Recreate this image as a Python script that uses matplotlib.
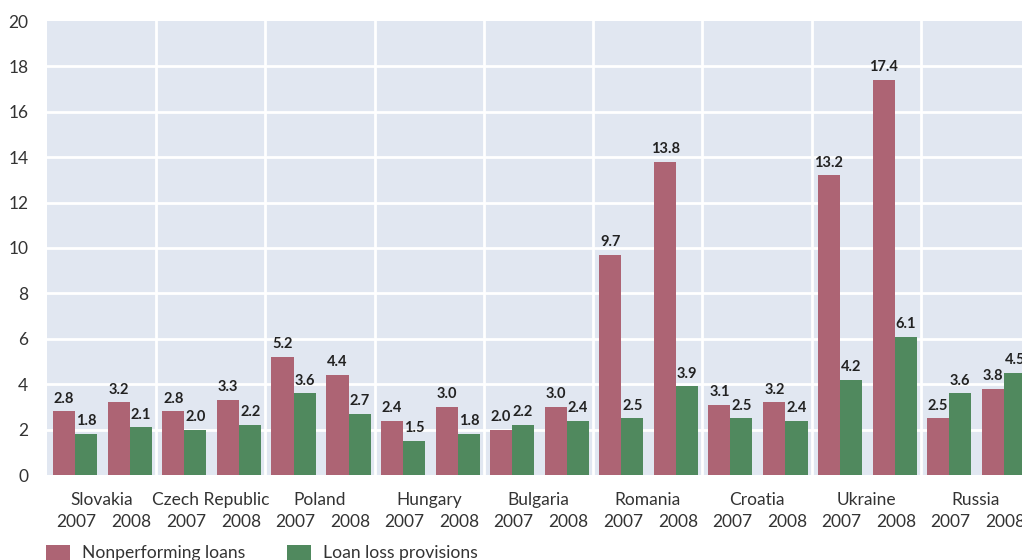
import matplotlib
matplotlib.use("Agg")
import matplotlib.pyplot as plt
from matplotlib.patches import Patch
from matplotlib.transforms import blended_transform_factory

countries = ["Slovakia", "Czech Republic", "Poland", "Hungary", "Bulgaria",
             "Romania", "Croatia", "Ukraine", "Russia"]
years = ["2007", "2008"]
# [country][year]
npl = [[2.8, 3.2], [2.8, 3.3], [5.2, 4.4], [2.4, 3.0], [2.0, 3.0],
       [9.7, 13.8], [3.1, 3.2], [13.2, 17.4], [2.5, 3.8]]
llp = [[1.8, 2.1], [2.0, 2.2], [3.6, 2.7], [1.5, 1.8], [2.2, 2.4],
       [2.5, 3.9], [2.5, 2.4], [4.2, 6.1], [3.6, 4.5]]
series_names = ["Nonperforming loans", "Loan loss provisions"]
yticks = [0, 2, 4, 6, 8, 10, 12, 14, 16, 18, 20]

PINK = "#ad6474"
GREEN = "#50895e"
BG = "#e1e7f1"
TXT = "#333333"
FONT = ["Lato", "DejaVu Sans"]
plt.rcParams["font.family"] = FONT

fig = plt.figure(figsize=(10.22, 5.60), dpi=100)
ax = fig.add_axes([47 / 1022, 85 / 560, 983 / 1022, 454 / 560])
ax.set_facecolor(BG)
for s in ax.spines.values():
    s.set_visible(False)

year_off = [0.257, 0.761]
bw = 0.202
label_kw = dict(ha="center", va="bottom", fontsize=10.5, fontweight="bold", color="#222222")
for i, c in enumerate(countries):
    for j in range(2):
        xc = i + year_off[j]
        ax.bar(xc - bw / 2, npl[i][j], width=bw, color=PINK, zorder=3)
        ax.bar(xc + bw / 2, llp[i][j], width=bw, color=GREEN, zorder=3)
        ax.text(xc - bw / 2, npl[i][j] + 0.25, f"{npl[i][j]:.1f}", zorder=4, **label_kw)
        ax.text(xc + bw / 2, llp[i][j] + 0.25, f"{llp[i][j]:.1f}", zorder=4, **label_kw)

ax.set_xlim(0, len(countries))
ax.set_ylim(0, 20)
ax.set_yticks(yticks)
ax.set_yticklabels([str(v) for v in yticks])
ax.tick_params(axis="y", length=0, pad=13.5, labelsize=12.5, labelcolor=TXT)
for v in yticks[1:-1]:
    ax.axhline(v, color="white", lw=2, zorder=1)
for i in range(1, len(countries)):
    ax.axvline(i, color="white", lw=2, zorder=1)

# year tick labels
xt, xl = [], []
for i in range(len(countries)):
    for j in range(2):
        xt.append(i + year_off[j] + 0.015)
        xl.append(years[j])
ax.set_xticks(xt)
ax.set_xticklabels(xl)
ax.tick_params(axis="x", length=0, pad=28, labelsize=12.5, labelcolor=TXT)

trans = blended_transform_factory(ax.transData, ax.transAxes)
for i, c in enumerate(countries):
    ax.text(i + 0.5, -25 / 454, c, transform=trans, ha="center", va="center",
            fontsize=12.5, color=TXT)

handles = [Patch(facecolor=PINK), Patch(facecolor=GREEN)]
fig.legend(handles, series_names, loc="upper left", bbox_to_anchor=(46 / 1022, 1 - 545 / 560),
           ncol=2, frameon=False, fontsize=12.6, handlelength=1.35, handleheight=0.9,
           handletextpad=0.7, columnspacing=2.4, borderpad=0, borderaxespad=0,
           labelcolor=TXT)

fig.savefig("out.png", dpi=100)
